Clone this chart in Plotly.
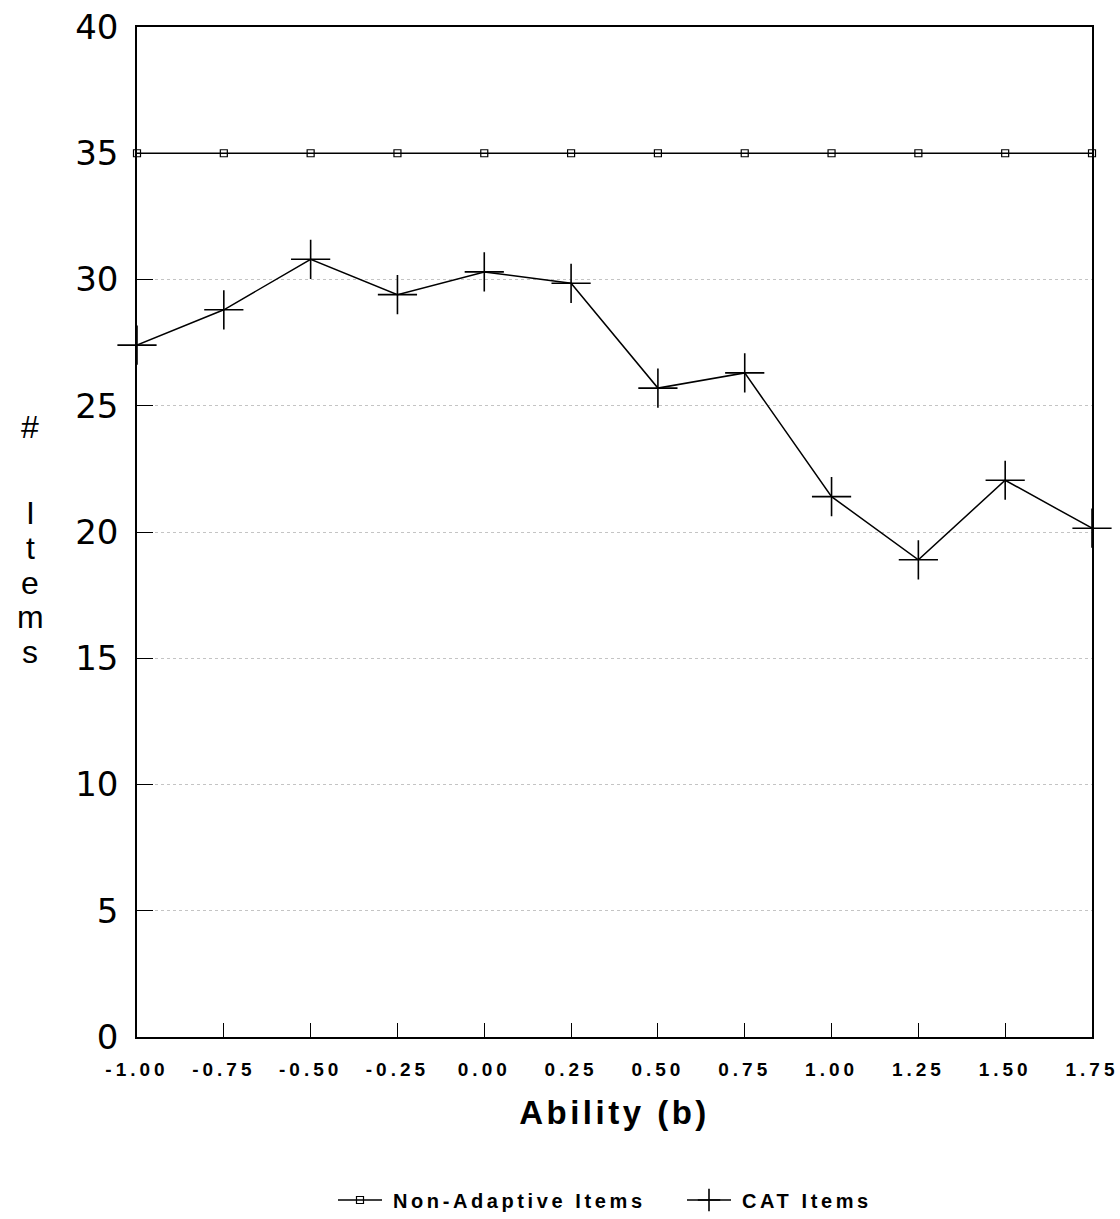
import plotly.graph_objects as go

# Ability levels (b) and number of items administered
ability = [-1.00, -0.75, -0.50, -0.25, 0.00, 0.25, 0.50, 0.75, 1.00, 1.25, 1.50, 1.75]
non_adaptive_items = [35, 35, 35, 35, 35, 35, 35, 35, 35, 35, 35, 35]
cat_items = [27.4, 28.8, 30.8, 29.4, 30.3, 29.85, 25.7, 26.3, 21.4, 18.9, 22.05, 20.15]

x_tick_vals = ability
x_tick_text = ["-1.00", "-0.75", "-0.50", "-0.25", "0.00", "0.25", "0.50",
               "0.75", "1.00", "1.25", "1.50", "1.75"]
y_tick_vals = [0, 5, 10, 15, 20, 25, 30, 35, 40]
y_title_letters = ["#", "I", "t", "e", "m", "s"]

SANS = "Liberation Sans, Arial, sans-serif"

fig = go.Figure()

fig.add_trace(go.Scatter(
    x=ability, y=non_adaptive_items, mode="lines+markers",
    name="Non-Adaptive Items",
    line=dict(color="black", width=1.3),
    marker=dict(symbol="square-open", size=7, color="black", line=dict(width=1.2)),
    cliponaxis=False,
))

fig.add_trace(go.Scatter(
    x=ability, y=cat_items, mode="lines+markers",
    name="CAT Items",
    line=dict(color="black", width=1.5),
    marker=dict(symbol="cross-thin", size=28, color="black",
                line=dict(width=1.6, color="black")),
    cliponaxis=False,
))

fig.update_layout(
    width=1120, height=1219,
    margin=dict(l=137, r=28, t=27, b=182, autoexpand=False),
    paper_bgcolor="white", plot_bgcolor="white",
    font=dict(family=SANS, color="black"),
    showlegend=True,
    legend=dict(orientation="h", x=(333 - 137) / 955, xanchor="left",
                y=-(1200 - 1037) / 1010, yanchor="middle",
                font=dict(size=20, family=SANS, weight="bold"),
                itemwidth=44, entrywidth=290, traceorder="normal"),
    xaxis=dict(
        range=[-1.0, 1.75], tickmode="array", tickvals=x_tick_vals, ticktext=x_tick_text,
        ticks="inside", ticklen=14, tickwidth=1.2, tickcolor="black",
        showline=True, linecolor="black", linewidth=1.5, mirror=True,
        showgrid=False, zeroline=False, ticklabelstandoff=14, automargin=False,
        tickfont=dict(size=19, family=SANS, weight="bold"),
        title=dict(text="Ability (b)", font=dict(size=33, family=SANS, weight="bold"),
                   standoff=22),
    ),
    yaxis=dict(
        range=[0, 40], tickmode="array", tickvals=y_tick_vals,
        ticks="inside", ticklen=16, tickwidth=1.2, tickcolor="black",
        showline=True, linecolor="black", linewidth=1.5, mirror=True,
        showgrid=True, gridcolor="#c4c4c4", griddash="dot", gridwidth=1,
        zeroline=False, ticklabelstandoff=10, automargin=False,
        tickfont=dict(size=34, family="DejaVu Sans, sans-serif"),
    ),
)

# Vertical y-axis title, one letter per line
letter_centers_px = [427, 513, 548, 583, 617, 652]
for letter, cy in zip(y_title_letters, letter_centers_px):
    fig.add_annotation(text=letter, xref="paper", yref="paper",
                       x=(30 - 137) / 955, y=(1037 - cy) / 1010,
                       showarrow=False, font=dict(size=32, family=SANS),
                       xanchor="center", yanchor="middle")

# Wide letter spacing for axis and legend texts, small gap after legend symbols
spacing_js = """
var gd = document.getElementById('{plot_id}');
function spaceText() {
  gd.querySelectorAll('.xtick text').forEach(function(t){ t.style.letterSpacing = '4px'; });
  gd.querySelectorAll('.g-xtitle text').forEach(function(t){ t.style.letterSpacing = '3.5px'; });
  gd.querySelectorAll('.legendtext').forEach(function(t){
    t.style.letterSpacing = '3.6px';
    t.style.transform = 'translateX(6px)';
  });
}
spaceText();
gd.on('plotly_afterplot', spaceText);
"""

fig.write_html("out.html", post_script=spacing_js)
